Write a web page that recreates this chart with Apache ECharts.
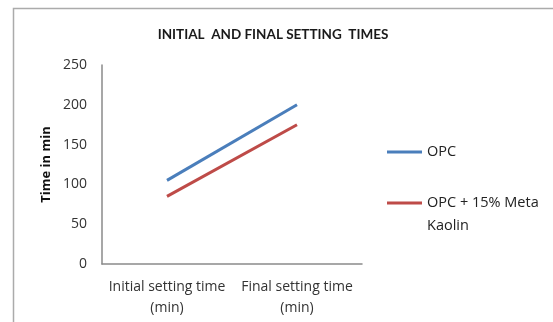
<!DOCTYPE html>
<html>
<head>
<meta charset="utf-8">
<script src="https://cdn.jsdelivr.net/npm/echarts@6/dist/echarts.min.js"></script>
<style>
  html, body { margin: 0; padding: 0; background: #fff; }
  #chart { width: 553px; height: 322px; }
</style>
</head>
<body>
<div id="chart"></div>
<script>
// Setting times of plain cement and cement with metakaolin
const categories = ['Initial setting time (min)', 'Final setting time (min)'];
const opcTimes = [105, 200];
const metaKaolinTimes = [85, 175];
const yTicks = [0, 50, 100, 150, 200, 250];

const seriesNames = ['OPC', 'OPC + 15% Meta Kaolin'];
const SANS = '"Open Sans", "Noto Sans", sans-serif';
const TITLE_FONT = 'Lato, "Liberation Sans", sans-serif';

const chart = echarts.init(document.getElementById('chart'), null, { renderer: 'canvas' });

const legendText = { fontFamily: SANS, fontSize: 14.5, color: '#222', lineHeight: 23 };

chart.setOption({
  animation: false,
  backgroundColor: '#ffffff',
  title: {
    text: 'INITIAL  AND FINAL SETTING  TIMES',
    left: 268,
    top: 23,
    textAlign: 'center',
    textStyle: { fontFamily: TITLE_FONT, fontSize: 13.5, fontWeight: 'bold', color: '#1a1a1a' }
  },
  graphic: [{
    type: 'rect',
    shape: { x: 13.5, y: 8.5, width: 700, height: 500 },
    style: { fill: 'none', stroke: '#ababab', lineWidth: 1.5 },
    silent: true
  }],
  legend: [{
    data: [seriesNames[0]],
    orient: 'vertical',
    left: 387,
    top: 140.5,
    padding: 0,
    icon: 'rect',
    itemWidth: 35,
    itemHeight: 3,
    itemGap: 0,
    textStyle: legendText
  }, {
    data: [seriesNames[1]],
    orient: 'vertical',
    left: 387,
    top: 168.5,
    padding: 0,
    icon: 'rect',
    itemWidth: 35,
    itemHeight: 3,
    itemGap: 0,
    // leading blank line keeps the marker level with the first line of text
    formatter: name => '\n' + name.replace(' Kaolin', '\nKaolin'),
    textStyle: legendText
  }],
  grid: { left: 102, top: 65, right: 191, bottom: 58, containLabel: false },
  xAxis: {
    type: 'category',
    data: categories,
    boundaryGap: true,
    axisLine: { lineStyle: { color: '#8a8a8a', width: 1.5 } },
    axisTick: { show: false },
    axisLabel: {
      interval: 0,
      margin: 13,
      fontFamily: SANS,
      fontSize: 14,
      color: '#333',
      lineHeight: 21,
      formatter: v => v.replace(' (', '\n(')
    }
  },
  yAxis: {
    type: 'value',
    min: yTicks[0],
    max: yTicks[yTicks.length - 1],
    interval: yTicks[1] - yTicks[0],
    name: 'Time in min',
    nameLocation: 'middle',
    nameGap: 49,
    nameTextStyle: { fontFamily: SANS, fontSize: 13, fontWeight: 'bold', color: '#111' },
    axisLine: { show: true, lineStyle: { color: '#8a8a8a', width: 1.5 } },
    axisTick: { show: false },
    splitLine: { show: false },
    axisLabel: { fontFamily: SANS, fontSize: 14, color: '#333', margin: 15 }
  },
  series: [{
    name: seriesNames[0],
    type: 'line',
    data: opcTimes,
    symbol: 'none',
    color: '#4A7EBB',
    lineStyle: { width: 3, color: '#4A7EBB' }
  }, {
    name: seriesNames[1],
    type: 'line',
    data: metaKaolinTimes,
    symbol: 'none',
    color: '#BE4B48',
    lineStyle: { width: 3, color: '#BE4B48' }
  }]
});
</script>
</body>
</html>
